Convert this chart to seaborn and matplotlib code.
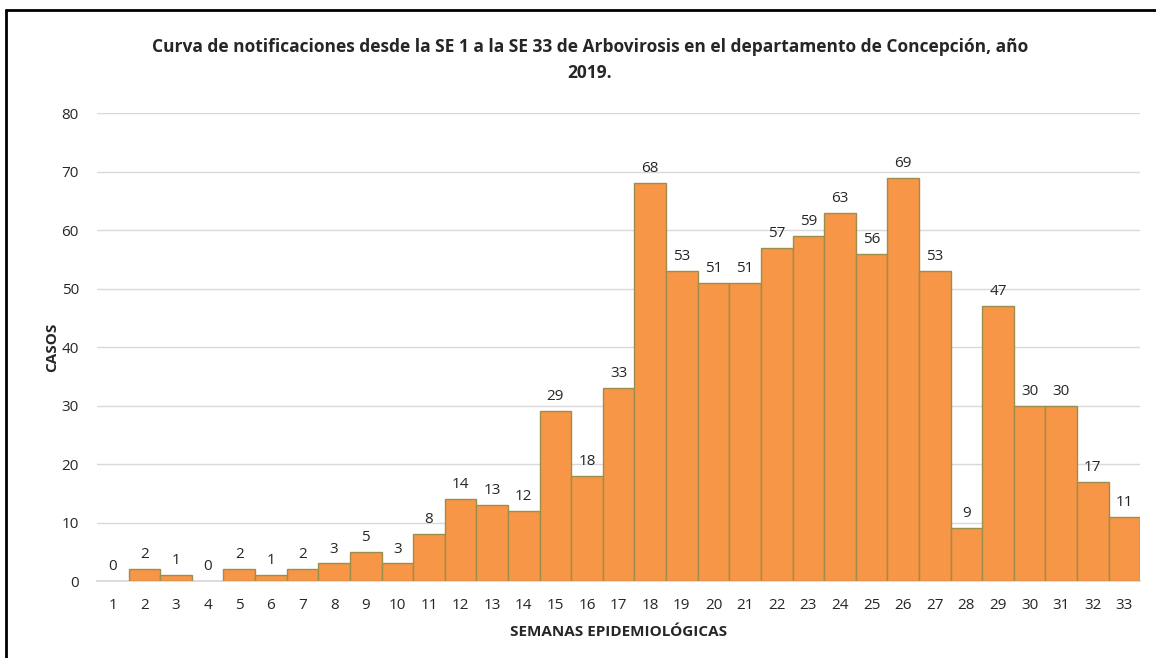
import matplotlib
matplotlib.use("Agg")
import matplotlib.pyplot as plt
import seaborn as sns
import pandas as pd
from matplotlib.lines import Line2D

# Data
semanas = [str(i) for i in range(1, 34)]
casos = [0, 2, 1, 0, 2, 1, 2, 3, 5, 3, 8, 14, 13, 12, 29, 18, 33, 68,
         53, 51, 51, 57, 59, 63, 56, 69, 53, 9, 47, 30, 30, 17, 11]
y_ticks = [0, 10, 20, 30, 40, 50, 60, 70, 80]

titulo = ("Curva de notificaciones desde la SE 1 a la SE 33 de Arbovirosis "
          "en el departamento de Concepción, año\n2019.")

sns.set_theme(style="white")
plt.rcParams["font.family"] = ["Open Sans", "DejaVu Sans"]

df = pd.DataFrame({"semana": semanas, "casos": casos})

fig = plt.figure(figsize=(11.56, 6.58), dpi=100)
ax = fig.add_axes([0.0839, 0.117, 0.9025, 0.711])

sns.barplot(data=df, x="semana", y="casos", color="#F79646", saturation=1,
            width=1.0, edgecolor="#9C8F4E", linewidth=1.0, ax=ax, zorder=3)

# no outline for empty weeks
for patch, v in zip(ax.patches, casos):
    if v == 0:
        patch.set_linewidth(0)

ax.bar_label(ax.containers[0], fmt="%d", padding=5, fontsize=11, color="#262626")

ax.set_ylim(0, 80)
ax.set_xlim(-0.5, len(semanas) - 0.5)
ax.set_yticks(y_ticks)
ax.yaxis.grid(True, color="#D9D9D9", linewidth=1.0, zorder=0)
ax.set_axisbelow(True)
for s in ["top", "right", "left"]:
    ax.spines[s].set_visible(False)
ax.spines["bottom"].set_color("#D9D9D9")
ax.tick_params(axis="both", length=0, labelsize=11, colors="#262626")
ax.tick_params(axis="y", pad=13)
ax.tick_params(axis="x", pad=12)

ax.set_xlabel("SEMANAS EPIDEMIOLÓGICAS", fontsize=11, fontweight="bold",
              color="#262626", labelpad=9)
ax.set_ylabel("CASOS", fontsize=11, fontweight="bold", color="#262626",
              labelpad=2)

fig.text(590 / 1156, 1 - 60 / 658, titulo, ha="center", va="center",
         fontsize=12.5, fontweight="bold", color="#262626", linespacing=1.5)

# black frame on top and left edges
fig.add_artist(Line2D([6 / 1156, 1], [1 - 10 / 658, 1 - 10 / 658],
                      transform=fig.transFigure, color="black", linewidth=2))
fig.add_artist(Line2D([6 / 1156, 6 / 1156], [0, 1 - 10 / 658],
                      transform=fig.transFigure, color="black", linewidth=2))

fig.savefig("out.png", dpi=100)
